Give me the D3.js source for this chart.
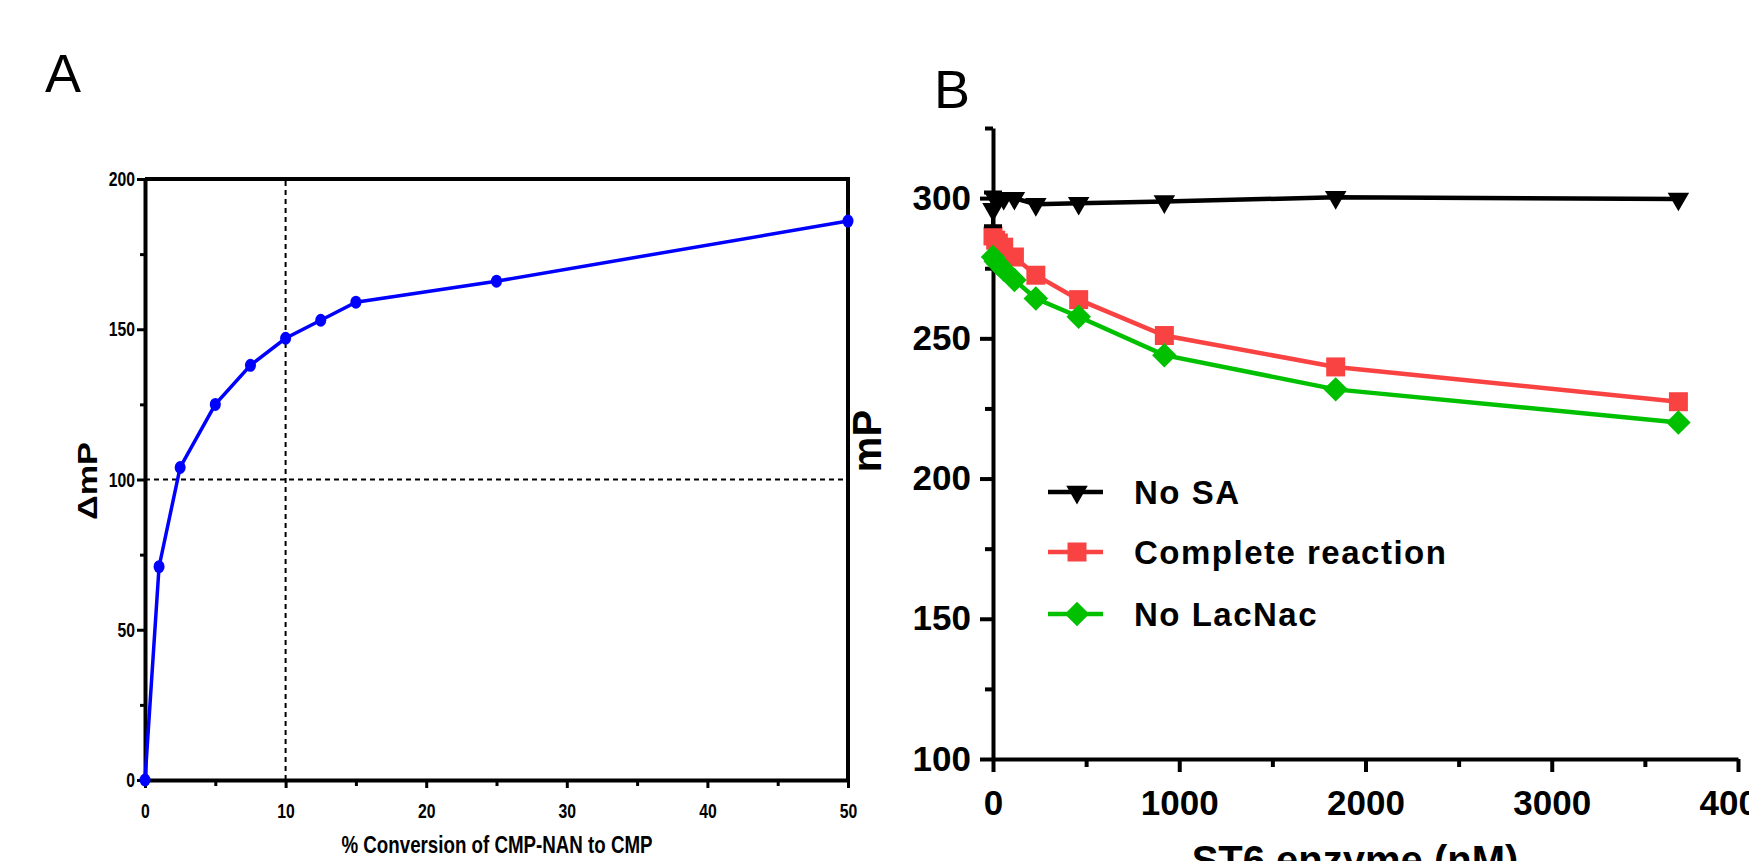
<!DOCTYPE html>
<html>
<head>
<meta charset="utf-8">
<script src="https://cdn.jsdelivr.net/npm/d3@7"></script>
<style>
  body { margin: 0; background: #fff; overflow: hidden; }
  svg { display: block; font-family: "Liberation Sans", Arial, sans-serif; }
</style>
</head>
<body>
<script>
// ---- Panel A data ----
const convPct = [0, 1, 2.5, 5, 7.5, 10, 12.5, 15, 25, 50];
const deltaMP = [0, 71, 104, 125, 138, 147, 153, 159, 166, 186];
const aXTicks = [0, 10, 20, 30, 40, 50];
const aXMinor = [5, 15, 25, 35, 45];
const aYTicks = [0, 50, 100, 150, 200];
const aYMinor = [25, 75, 125, 175];

// ---- Panel B data ----
const enzymeNM = [0, 14.4, 28.75, 57.5, 115, 230, 460, 920, 1840, 3680];
const noSA     = [296, 299.5, 300, 300, 300, 297.8, 298.2, 298.8, 300.3, 299.7];
const noSAErr  = [6, 0, 0, 0, 0, 0, 0, 0, 0, 0];
const complete = [286.5, 285, 284, 282.5, 279, 272.5, 263.8, 251, 239.8, 227.4];
const noLacNac = [279, 277.5, 276.5, 274.5, 270.8, 264.2, 257.7, 244, 231.8, 220];
const seriesNames = ["No SA", "Complete reaction", "No LacNac"];
const bXTicks = [0, 1000, 2000, 3000, 4000];
const bXMinor = [500, 1500, 2500, 3500];
const bYTicks = [100, 150, 200, 250, 300];
const bYMinor = [125, 175, 225, 275, 325];

const svg = d3.select("body").append("svg")
  .attr("width", 1749)
  .attr("height", 861);

// Panel letters
svg.append("text").attr("x", 45).attr("y", 92).style("font-size", "54px").text("A");
svg.append("text").attr("x", 934).attr("y", 108).style("font-size", "54px").text("B");

// ================= Panel A =================
const xA = d3.scaleLinear().domain([0, 50]).range([145, 848]);
const yA = d3.scaleLinear().domain([0, 200]).range([780, 179]);
const narrow = 0.75;

// minor ticks
svg.append("g").attr("transform", "translate(0,780)")
  .call(d3.axisBottom(xA).tickValues(aXMinor).tickSize(6).tickFormat(""))
  .call(g => g.select(".domain").remove())
  .selectAll("line").attr("stroke-width", 3);
svg.append("g").attr("transform", "translate(145,0)")
  .call(d3.axisLeft(yA).tickValues(aYMinor).tickSize(5).tickFormat(""))
  .call(g => g.select(".domain").remove())
  .selectAll("line").attr("stroke-width", 3);

// major axes
const axA_x = svg.append("g").attr("transform", "translate(0,780)")
  .call(d3.axisBottom(xA).tickValues(aXTicks).tickSize(8).tickSizeOuter(0).tickPadding(15));
const axA_y = svg.append("g").attr("transform", "translate(145,0)")
  .call(d3.axisLeft(yA).tickValues(aYTicks).tickSize(8).tickSizeOuter(0).tickPadding(2));
[axA_x, axA_y].forEach(ax => {
  ax.select(".domain").attr("stroke-width", 4);
  ax.selectAll(".tick line").attr("stroke-width", 3);
  ax.selectAll("text")
    .style("font-size", "21px").style("font-weight", "bold").attr("fill", "#000")
    .attr("x", function() { return +d3.select(this).attr("x") / narrow; })
    .attr("transform", `scale(${narrow},1)`);
});

// frame (top & right)
svg.append("path")
  .attr("d", `M${xA(0)},${yA(200)}H${xA(50)}V${yA(0)}`)
  .attr("fill", "none").attr("stroke", "#000").attr("stroke-width", 4);

// dashed reference lines
svg.append("line")
  .attr("x1", xA(10)).attr("x2", xA(10)).attr("y1", yA(0)).attr("y2", yA(200))
  .attr("stroke", "#000").attr("stroke-width", 2).attr("stroke-dasharray", "5,4");
svg.append("line")
  .attr("x1", xA(0)).attr("x2", xA(50)).attr("y1", yA(100)).attr("y2", yA(100))
  .attr("stroke", "#000").attr("stroke-width", 2).attr("stroke-dasharray", "5,4");

// curve
const dataA = convPct.map((c, i) => ({x: c, y: deltaMP[i]}));
svg.append("path")
  .datum(dataA)
  .attr("d", d3.line().x(d => xA(d.x)).y(d => yA(d.y)))
  .attr("fill", "none").attr("stroke", "#0000ff").attr("stroke-width", 3.5);
svg.selectAll(".ptA").data(dataA).join("ellipse")
  .attr("cx", d => xA(d.x)).attr("cy", d => yA(d.y))
  .attr("rx", 5.5).attr("ry", 6.5).attr("fill", "#0000ff");

// axis titles
svg.append("text")
  .attr("transform", "translate(97,481) rotate(-90)")
  .attr("text-anchor", "middle")
  .attr("textLength", 78).attr("lengthAdjust", "spacingAndGlyphs")
  .style("font-size", "27px").style("font-weight", "bold")
  .text("ΔmP");
svg.append("text")
  .attr("x", 497).attr("y", 853)
  .attr("text-anchor", "middle")
  .attr("textLength", 311).attr("lengthAdjust", "spacingAndGlyphs")
  .style("font-size", "24px").style("font-weight", "bold")
  .text("% Conversion of CMP-NAN to CMP");

// ================= Panel B =================
const xB = d3.scaleLinear().domain([0, 4000]).range([993, 1738]);
const yB = d3.scaleLinear().domain([100, 325]).range([759, 128]);

svg.append("g").attr("transform", "translate(0,759)")
  .call(d3.axisBottom(xB).tickValues(bXMinor).tickSize(8).tickFormat(""))
  .call(g => g.select(".domain").remove())
  .selectAll("line").attr("stroke-width", 4);
svg.append("g").attr("transform", "translate(993,0)")
  .call(d3.axisLeft(yB).tickValues(bYMinor).tickSize(8).tickFormat(""))
  .call(g => g.select(".domain").remove())
  .selectAll("line").attr("stroke-width", 4);

const axB_x = svg.append("g").attr("transform", "translate(0,759)")
  .call(d3.axisBottom(xB).tickValues(bXTicks).tickFormat(d3.format("d"))
    .tickSize(13).tickSizeOuter(0).tickPadding(18));
const axB_y = svg.append("g").attr("transform", "translate(993,0)")
  .call(d3.axisLeft(yB).tickValues(bYTicks).tickSize(13).tickSizeOuter(0).tickPadding(9));
[axB_x, axB_y].forEach(ax => {
  ax.select(".domain").attr("stroke-width", 4);
  ax.selectAll(".tick line").attr("stroke-width", 4);
  ax.selectAll("text")
    .style("font-size", "35px").style("font-weight", "bold").attr("fill", "#000");
});

const colors = ["#000000", "#f94343", "#00c000"];
const seriesB = [
  {name: seriesNames[0], vals: noSA, color: colors[0], shape: "tri"},
  {name: seriesNames[1], vals: complete, color: colors[1], shape: "sq"},
  {name: seriesNames[2], vals: noLacNac, color: colors[2], shape: "dia"}
];

function marker(sel, shape, color) {
  if (shape === "tri") {
    sel.attr("d", d3.symbol().type(d3.symbolTriangle).size(200)())
      .attr("fill", color);
    return "rotate(180)";
  } else if (shape === "sq") {
    sel.attr("d", d3.symbol().type(d3.symbolSquare).size(361)()).attr("fill", color);
    return "";
  } else {
    sel.attr("d", d3.symbol().type(d3.symbolSquare).size(300)()).attr("fill", color);
    return "rotate(45)";
  }
}

const lineB = d3.line().x(d => xB(d.x)).y(d => yB(d.y));
// draw order: red, green, then black
[seriesB[1], seriesB[2], seriesB[0]].forEach(s => {
  const pts = enzymeNM.map((x, i) => ({x: x, y: s.vals[i]}));
  svg.append("path").datum(pts).attr("d", lineB)
    .attr("fill", "none").attr("stroke", s.color).attr("stroke-width", 4.5);
  pts.forEach(p => {
    const m = svg.append("path");
    const rot = marker(m, s.shape, s.color);
    m.attr("transform", `translate(${xB(p.x)},${yB(p.y)}) ${rot}`);
  });
});

// error bar on first No SA point
enzymeNM.forEach((x, i) => {
  if (noSAErr[i] > 0) {
    const cx = xB(x), lo = yB(noSA[i] - noSAErr[i]), hi = yB(noSA[i] + noSAErr[i]);
    svg.append("path")
      .attr("d", `M${cx},${hi}V${lo}M${cx - 9},${lo}H${cx + 9}M${cx - 9},${hi}H${cx + 9}`)
      .attr("stroke", "#000").attr("stroke-width", 4).attr("fill", "none");
  }
});

// legend
const legY = [492, 552, 614];
seriesB.forEach((s, i) => {
  svg.append("line")
    .attr("x1", 1048).attr("x2", 1103).attr("y1", legY[i]).attr("y2", legY[i])
    .attr("stroke", s.color).attr("stroke-width", 4.5);
  const m = svg.append("path");
  const rot = marker(m, s.shape, s.color);
  m.attr("transform", `translate(1077,${legY[i]}) ${rot}`);
  svg.append("text")
    .attr("x", 1134).attr("y", legY[i] + 12)
    .style("font-size", "33px").style("font-weight", "bold")
    .style("letter-spacing", "1.5px")
    .text(s.name);
});

// axis titles
svg.append("text")
  .attr("transform", "translate(881,441) rotate(-90)")
  .attr("text-anchor", "middle")
  .style("font-size", "40px").style("font-weight", "bold")
  .text("mP");
svg.append("text")
  .attr("x", 1355).attr("y", 874)
  .attr("text-anchor", "middle")
  .style("font-size", "40px").style("font-weight", "bold")
  .text("ST6 enzyme (nM)");
</script>
</body>
</html>
